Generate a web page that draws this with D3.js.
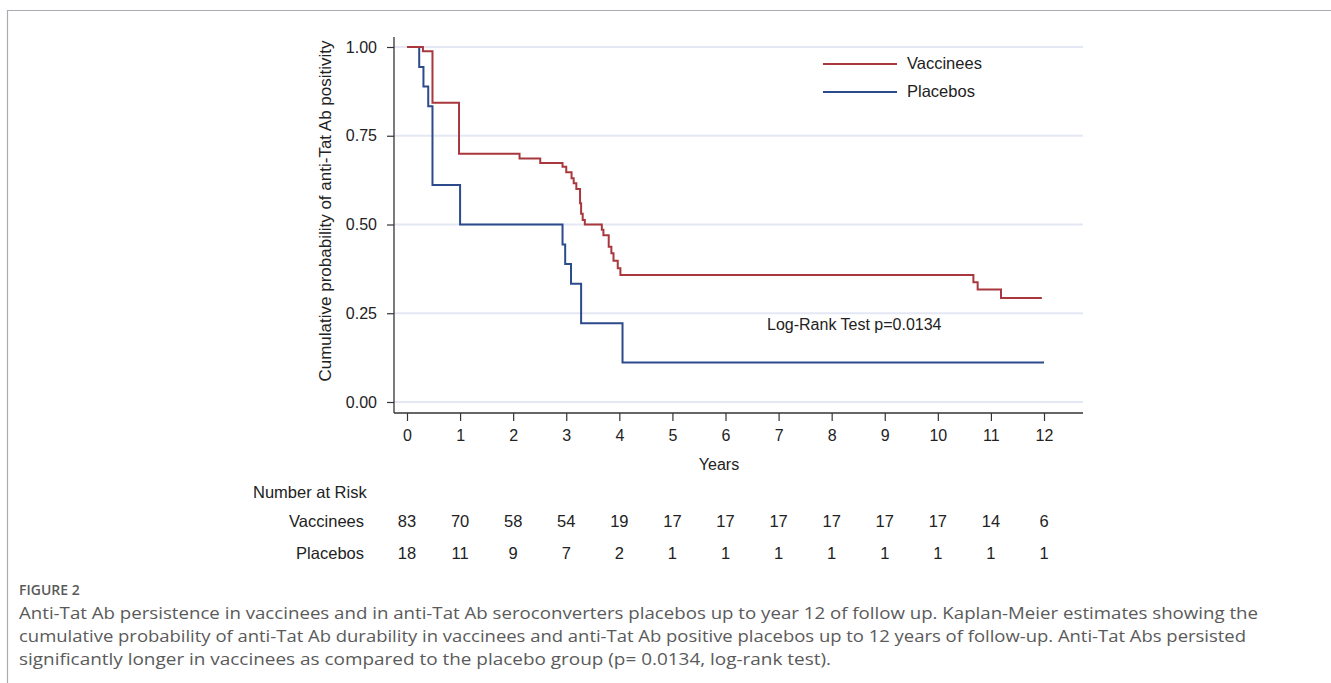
<!DOCTYPE html>
<html>
<head>
<meta charset="utf-8">
<script src="https://cdn.jsdelivr.net/npm/d3@7"></script>
<style>
  html, body { margin: 0; padding: 0; background: #fff; }
  svg { display: block; }
</style>
</head>
<body>
<svg id="chart" width="1331" height="683"></svg>
<script>
// ---------------- DATA ----------------
const years = [0,1,2,3,4,5,6,7,8,9,10,11,12];
const yTicks = [0, 0.25, 0.5, 0.75, 1.0];

const vaccTimes = [0, 0.30, 0.48, 0.98, 2.12, 2.51, 2.93, 3.00, 3.10, 3.14, 3.19, 3.26, 3.28, 3.31, 3.35, 3.67, 3.70, 3.80, 3.85, 3.89, 3.97, 4.02, 10.67, 10.75, 11.19, 11.96];
const vaccSurv  = [1.0, 0.988, 0.843, 0.699, 0.686, 0.673, 0.663, 0.647, 0.630, 0.616, 0.600, 0.560, 0.530, 0.513, 0.500, 0.485, 0.470, 0.437, 0.419, 0.398, 0.377, 0.358, 0.337, 0.317, 0.293, 0.293];

const placTimes = [0, 0.23, 0.31, 0.40, 0.48, 1.0, 2.93, 2.98, 3.09, 3.28, 4.06, 12.0];
const placSurv  = [1.0, 0.944, 0.889, 0.833, 0.611, 0.500, 0.444, 0.389, 0.333, 0.222, 0.111, 0.111];

const seriesNames = ["Vaccinees", "Placebos"];
const riskVacc = [83,70,58,54,19,17,17,17,17,17,17,14,6];
const riskPlac = [18,11,9,7,2,1,1,1,1,1,1,1,1];

const captionTitle = "FIGURE 2";
const captionLines = [
  "Anti-Tat Ab persistence in vaccinees and in anti-Tat Ab seroconverters placebos up to year 12 of follow up. Kaplan-Meier estimates showing the",
  "cumulative probability of anti-Tat Ab durability in vaccinees and anti-Tat Ab positive placebos up to 12 years of follow-up. Anti-Tat Abs persisted",
  "significantly longer in vaccinees as compared to the placebo group (p= 0.0134, log-rank test)."
];

// ---------------- LAYOUT ----------------
const RED = "#a8383d", BLUE = "#2c4a8c", AXIS = "#333", GRID = "#e4e7f4";
const FONT = "'Liberation Sans', Arial, sans-serif";
const svg = d3.select("#chart");

// frame
svg.append("path").attr("d", "M7.5,683 V10.5 H1331")
  .attr("fill", "none").attr("stroke", "#aaaab0").attr("stroke-width", 1.2);

const x = d3.scaleLinear().domain([0, 12]).range([407, 1044]);
const y = d3.scaleLinear().domain([0, 1]).range([402, 47]);

const axisX0 = 394, axisX1 = 1083, axisY = 413, axisTop = 37;

// gridlines
svg.append("g").selectAll("line").data(yTicks).join("line")
  .attr("x1", axisX0).attr("x2", axisX1)
  .attr("y1", d => y(d)).attr("y2", d => y(d))
  .attr("stroke", GRID).attr("stroke-width", 2);

// y axis
const gy = svg.append("g").attr("transform", `translate(${axisX0},0)`)
  .call(d3.axisLeft(y).tickValues(yTicks).tickFormat(d3.format(".2f")).tickSize(7).tickPadding(10));
gy.select(".domain").remove();
gy.selectAll(".tick line").attr("stroke", AXIS).attr("stroke-width", 1.2);
gy.selectAll(".tick text").attr("font-family", FONT).attr("font-size", 16).attr("fill", "#222");
svg.append("line").attr("x1", axisX0).attr("x2", axisX0).attr("y1", axisTop).attr("y2", axisY)
  .attr("stroke", AXIS).attr("stroke-width", 1.3);

// x axis
const gx = svg.append("g").attr("transform", `translate(0,${axisY})`)
  .call(d3.axisBottom(x).tickValues(years).tickFormat(d3.format("d")).tickSize(8).tickPadding(9));
gx.select(".domain").remove();
gx.selectAll(".tick line").attr("stroke", AXIS).attr("stroke-width", 1.2);
gx.selectAll(".tick text").attr("font-family", FONT).attr("font-size", 16).attr("fill", "#222");
svg.append("line").attr("x1", axisX0).attr("x2", axisX1).attr("y1", axisY).attr("y2", axisY)
  .attr("stroke", AXIS).attr("stroke-width", 1.3);

// axis titles
svg.append("text").attr("x", 719).attr("y", 464).attr("dy", "0.35em")
  .attr("text-anchor", "middle").attr("font-family", FONT).attr("font-size", 16).attr("fill", "#222")
  .text("Years");
svg.append("text").attr("transform", "translate(325,211) rotate(-90)").attr("dy", "0.35em")
  .attr("text-anchor", "middle").attr("font-family", FONT).attr("font-size", 17).attr("fill", "#222")
  .text("Cumulative probability of anti-Tat Ab positivity");

// curves
const line = d3.line().x(d => x(d[0])).y(d => y(d[1])).curve(d3.curveStepAfter);
const vaccData = d3.zip(vaccTimes, vaccSurv);
const placData = d3.zip(placTimes, placSurv);
svg.append("path").datum(placData).attr("d", line)
  .attr("fill", "none").attr("stroke", BLUE).attr("stroke-width", 2);
svg.append("path").datum(vaccData).attr("d", line)
  .attr("fill", "none").attr("stroke", RED).attr("stroke-width", 2);

// legend
const legColors = [RED, BLUE];
const leg = svg.append("g");
seriesNames.forEach((name, i) => {
  const ly = 64 + i * 28;
  leg.append("line").attr("x1", 823).attr("x2", 897).attr("y1", ly).attr("y2", ly)
    .attr("stroke", legColors[i]).attr("stroke-width", 2);
  leg.append("text").attr("x", 907).attr("y", ly - 1).attr("dy", "0.35em")
    .attr("font-family", FONT).attr("font-size", 16.5).attr("fill", "#222").text(name);
});

// log-rank text
svg.append("text").attr("x", 767).attr("y", 324).attr("dy", "0.35em")
  .attr("font-family", FONT).attr("font-size", 16).attr("fill", "#222")
  .text("Log-Rank Test p=0.0134");

// number at risk
svg.append("text").attr("x", 253).attr("y", 492).attr("dy", "0.35em")
  .attr("font-family", FONT).attr("font-size", 16.5).attr("fill", "#222").text("Number at Risk");
const rows = [{name: seriesNames[0], vals: riskVacc, y: 521}, {name: seriesNames[1], vals: riskPlac, y: 553}];
rows.forEach(r => {
  svg.append("text").attr("x", 364).attr("y", r.y).attr("dy", "0.35em").attr("text-anchor", "end")
    .attr("font-family", FONT).attr("font-size", 16.5).attr("fill", "#222").text(r.name);
  svg.append("g").selectAll("text").data(r.vals).join("text")
    .attr("x", (d, i) => x(years[i])).attr("y", r.y).attr("dy", "0.35em").attr("text-anchor", "middle")
    .attr("font-family", FONT).attr("font-size", 16.5).attr("fill", "#222").text(d => d);
});

// caption
const CAP = "'Open Sans', 'Noto Sans', sans-serif";
svg.append("text").attr("x", 19).attr("y", 595)
  .attr("font-family", CAP).attr("font-size", 14).attr("font-weight", 600).attr("fill", "#5a5a5a")
  .text(captionTitle);
const capWidths = [1239, 1227, 812];
captionLines.forEach((t, i) => {
  svg.append("text").attr("x", 19).attr("y", 619 + i * 23)
    .attr("font-family", CAP).attr("font-size", 16).attr("fill", "#5a5a5a")
    .attr("textLength", capWidths[i]).attr("lengthAdjust", "spacingAndGlyphs")
    .text(t);
});
</script>
</body>
</html>
